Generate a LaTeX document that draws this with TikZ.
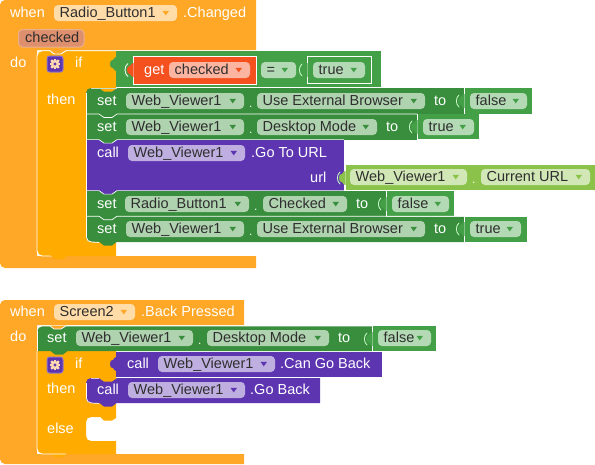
\documentclass[tikz,border=0pt]{standalone}
\usepackage{fontspec}
\setmainfont{Liberation Sans}
\definecolor{ctlA}{HTML}{FFA726}
\definecolor{ctlB}{HTML}{FFAB00}
\definecolor{setG}{HTML}{388E3C}
\definecolor{logG}{HTML}{43A047}
\definecolor{callP}{HTML}{5E35B1}
\definecolor{getR}{HTML}{F4511E}
\definecolor{urlG}{HTML}{8BC34A}
\definecolor{pA}{HTML}{FFDCA8}
\definecolor{pS}{HTML}{AFD2AF}
\definecolor{pL}{HTML}{B4DAB5}
\definecolor{pP}{HTML}{BFAFE0}
\definecolor{pU}{HTML}{D1E7B5}
\definecolor{pR}{HTML}{FBB5A0}
\definecolor{pC}{HTML}{DD8F6E}
\definecolor{pCe}{HTML}{EDB08C}
\definecolor{ink}{HTML}{2E2E2E}
\newcount\nn
\tikzset{
  x=1pt,y=-1pt,
  lbl/.style={anchor=west,inner sep=0pt,text=white,font=\fontsize{14.5pt}{16pt}\selectfont},
  plbl/.style={lbl,text=ink},
  rim/.style={draw=white,line width=0.9pt,line join=round},
  seam/.style={draw=white,line width=.7pt,line join=round},
}
% white label: x, y-centre, text
\newcommand{\lab}[3]{\global\advance\nn 1 \node[lbl] (n\the\nn) at (#1,#2+1.2) {\vphantom{Ag}#3};}
\newcommand{\dotlab}[2]{\lab{#1}{#2+2}{\fontsize{12pt}{12pt}\selectfont .}}
% pill: x1,x2,yc,text,fill,arrow colour
\newcommand{\pill}[6]{\global\advance\nn 1
  \fill[#5,rounded corners=4pt] (#1,#3-8) rectangle (#2,#3+8);
  \node[plbl] (n\the\nn) at (#1+5.5,#3+1) {\vphantom{Ag}#4};
  \fill[#6] (#2-14.5,#3-2.2) -- (#2-8,#3-2.2) -- (#2-11.25,#3+2.4) -- cycle;}
% value tab on a block's left edge x, centre y
\newcommand{\vtab}[3]{\fill[#3] (#1+.5,#2-7) .. controls (#1-1,#2-7) and (#1-2,#2-6) .. (#1-3,#2-4)
   .. controls (#1-7,#2-6) and (#1-7,#2+6) .. (#1-3,#2+4)
   .. controls (#1-2,#2+6) and (#1-1,#2+7) .. (#1+.5,#2+7) -- cycle;}
\newcommand{\vrim}[2]{\draw[white!80!green,line width=.8pt,line cap=round] (#1-5,#2-6) .. controls (#1-8.5,#2-3) and (#1-8.5,#2+3) .. (#1-5,#2+6);}
% value block: x1,x2,y1,y2,yc,colour
\newcommand{\valblock}[6]{\fill[#6] (#1,#3) rectangle (#2,#4);
  \draw[white,line width=.8pt] (#1+.5,#3) -- (#1+.5,#4);
  \vtab{#1}{#5}{#6} \vrim{#1}{#5}}
% downward notch: x, y, colour
\newcommand{\notch}[3]{\fill[#3] (#1+13,#2-.5) -- (#1+18,#2+3.6) -- (#1+26,#2+3.6) -- (#1+31,#2-.5) -- cycle;}
% seam along top of a statement: x1, x2, y
\newcommand{\seamline}[3]{\draw[seam] (#1,#3) -- (#1+13,#3) -- (#1+18,#3+3.5) -- (#1+26,#3+3.5) -- (#1+31,#3) -- (#2,#3);}
% gear: x,y centre
\newcommand{\gear}[2]{
  \fill[white!30!callP,rounded corners=3pt] (#1-8.5,#2-8.5) rectangle (#1+8.5,#2+8.5);
  \fill[callP,rounded corners=2.5pt] (#1-7.5,#2-7.5) rectangle (#1+7.5,#2+7.5);
  \foreach \a in {0,45,...,315}{\fill[white!70!orange,rotate around={\a:(#1,#2)}] (#1-1.2,#2-5.4) rectangle (#1+1.2,#2-3);}
  \fill[white!70!orange,even odd rule] (#1,#2) circle (4.2pt) (#1,#2) circle (1.9pt);}
\begin{document}
\begin{tikzpicture}
\useasboundingbox (0,0) rectangle (595,464);
% ===== first event block =====
\fill[ctlA] (5,0) -- (256,0) -- (256,50) -- (37,50) -- (37,256) -- (256,256) -- (256,268) -- (5,268)
   arc[start angle=270,end angle=180,radius=5pt] -- (0,5) arc[start angle=180,end angle=90,radius=5pt] -- cycle;
% if block
\fill[ctlB] (42,50.5) -- (116,50.5) -- (116,256) -- (42,256) arc[start angle=270,end angle=180,radius=5pt]
   -- (37,55.5) arc[start angle=180,end angle=90,radius=5pt] -- cycle;
\fill[ctlA] (50,50) -- (54,54) -- (61,54) -- (66,50) -- cycle;
\draw[rim] (116,50.7) -- (66,50.7) -- (61,54) -- (54,54) -- (50,50.7) -- (42,50.7) arc[start angle=90,end angle=180,radius=5pt] -- (37,251) arc[start angle=180,end angle=270,radius=5pt] -- (66,256);
\notch{37}{255.5}{ctlB}
% condition
\fill[logG] (116,51) rectangle (380.5,87);
\vtab{116}{64}{logG}
\fill[getR] (133,56) rectangle (256,84);
\draw[white,line width=.9pt] (256,56) rectangle (133,84);
\vtab{133}{70}{getR}
\draw[white,line width=.8pt] (128,63.5) .. controls (124,66) and (124,74) .. (128,76.5);
\lab{144}{70}{get}
\pill{169}{250}{70}{checked}{pR}{getR}
\pill{261}{296}{70}{=}{pL}{logG}
\draw[white,line width=.9pt] (307,56.5) rectangle (371,83.5);
\vtab{307}{70}{logG}
\vrim{307}{70}
\pill{313}{365}{70}{true}{pL}{logG}
% then stack: row 1
\fill[setG] (86,93) arc[start angle=180,end angle=90,radius=5pt] -- (464,88) -- (464,114) -- (86,114) -- cycle;
\fill[ctlB] (99,88) -- (104,91.5) -- (112,91.5) -- (117,88) -- cycle;
\draw[white!70!setG,line width=.7pt] (117,88) -- (91,88);
\valblock{464}{532}{88}{113.5}{101}{logG}
\lab{97}{101}{set}
\pill{126}{244}{101}{Web\_Viewer1}{pS}{setG}
\dotlab{249}{101}
\pill{257}{425}{101}{Use External Browser}{pS}{setG}
\lab{434}{101}{to}
\pill{470}{527}{101}{false}{pL}{logG}
% row 2
\fill[setG] (86,114) rectangle (417,139.5);
\valblock{417}{479}{114}{139}{127}{logG}
\notch{86}{114}{setG}
\seamline{86}{417}{114}
\lab{97}{127}{set}
\pill{126}{244}{127}{Web\_Viewer1}{pS}{setG}
\dotlab{249}{127}
\pill{257}{377}{127}{Desktop Mode}{pS}{setG}
\lab{386}{127}{to}
\pill{423}{474}{127}{true}{pL}{logG}
% row 3
\fill[callP] (86,139.5) rectangle (344,190.5);
\valblock{345}{595}{165}{190}{178}{urlG}
\notch{86}{139.5}{setG}
\seamline{86}{344}{139.6}
\lab{97}{153}{call}
\pill{128}{245}{153}{Web\_Viewer1}{pP}{callP}
\lab{251}{153}{.Go To URL}
\lab{310}{178}{url}
\pill{350}{467}{177}{Web\_Viewer1}{pU}{urlG}
\dotlab{472}{177}
\pill{481}{590}{177}{Current URL}{pU}{urlG}
% row 4
\fill[setG] (86,190.5) rectangle (386,216.5);
\valblock{386}{454}{191}{216}{204}{logG}
\notch{86}{190.5}{callP}
\seamline{86}{386}{190.6}
\lab{97}{204}{set}
\pill{125}{249}{204}{Radio\_Button1}{pS}{setG}
\dotlab{254}{204}
\pill{263}{347}{204}{Checked}{pS}{setG}
\lab{356}{204}{to}
\pill{392}{449}{204}{false}{pL}{logG}
% row 5
\fill[setG] (86,216.5) -- (464,216.5) -- (464,242) -- (91,242) arc[start angle=270,end angle=180,radius=5pt] -- cycle;
\valblock{464}{527}{216.5}{242}{229}{logG}
\notch{86}{216.2}{setG}
\notch{86}{242}{setG}
\seamline{86}{464}{216.2}
\draw[white,line width=.8pt] (86.4,93) -- (86.4,237) arc[start angle=180,end angle=270,radius=5pt] -- (99,242.4);
\lab{97}{229}{set}
\pill{126}{244}{229}{Web\_Viewer1}{pS}{setG}
\dotlab{249}{229}
\pill{257}{425}{229}{Use External Browser}{pS}{setG}
\lab{434}{229}{to}
\pill{470}{521}{229}{true}{pL}{logG}
% labels of event 1
\lab{10}{13}{when}
\pill{54}{177}{13}{Radio\_Button1}{pA}{ctlA}
\lab{183}{13}{.Changed}
\fill[pC,rounded corners=4pt,draw=pCe,line width=1pt] (18.5,29.5) rectangle (84,47);
\node[plbl] (chk) at (25,39) {\vphantom{Ag}checked};
\lab{10}{63}{do}
\gear{55}{64}
\lab{75}{63}{if}
\lab{47}{100}{then}
% ===== second event block =====
\fill[ctlA] (5,300) -- (244,300) -- (244,325) -- (37,325) -- (37,454) -- (244,454) -- (244,464) -- (5,464)
   arc[start angle=270,end angle=180,radius=5pt] -- (0,305) arc[start angle=180,end angle=90,radius=5pt] -- cycle;
\fill[ctlB] (37,351) -- (116,351) -- (116,417) -- (91,417) arc[start angle=90,end angle=180,radius=5pt]
   -- (86,436) arc[start angle=180,end angle=270,radius=5pt] -- (116,441) -- (116,454) -- (42,454)
   arc[start angle=270,end angle=180,radius=5pt] -- cycle;
\fill[ctlB] (100,416.5) -- (104,420.5) -- (112,420.5) -- (116,418) -- (116,416.5) -- cycle;
\notch{37}{453.5}{ctlB}
\draw[rim] (37,351) -- (37,449) arc[start angle=180,end angle=270,radius=5pt] -- (66,454);
% set
\fill[setG] (37,331) arc[start angle=180,end angle=90,radius=5pt] -- (372,326) -- (372,351) -- (37,351) -- cycle;
\valblock{372}{436}{326}{351}{339}{logG}
\fill[ctlA] (50,325.6) -- (54,329) -- (61,329) -- (66,325.6) -- cycle;
\draw[seam] (37,331) arc[start angle=180,end angle=90,radius=5pt] -- (50,326) -- (54,329) -- (61,329) -- (66,326) -- (372,326);
\draw[seam] (37,331) -- (37,351);
\notch{37}{351}{setG}
\lab{47}{338}{set}
\pill{76}{193}{338}{Web\_Viewer1}{pS}{setG}
\dotlab{198}{338}
\pill{207}{329}{338}{Desktop Mode}{pS}{setG}
\lab{338}{338}{to}
\pill{378}{431}{338}{false}{pL}{logG}
% condition call
\fill[callP] (116,352) rectangle (382,377);
\vtab{116}{364}{callP}
\lab{127}{364}{call}
\pill{158}{275}{364}{Web\_Viewer1}{pP}{callP}
\lab{280}{364}{.Can Go Back}
% then call
\fill[callP] (86,383) arc[start angle=180,end angle=90,radius=5pt] -- (320,378) -- (320,403) -- (91,403)
   arc[start angle=270,end angle=180,radius=5pt] -- cycle;
\fill[ctlB] (99,378) -- (104,381.5) -- (112,381.5) -- (117,378) -- cycle;
\draw[white!70!callP,line width=.7pt] (91,378) -- (99,378);
\notch{86}{403}{callP}
\draw[white,line width=.7pt] (86.4,383) -- (86.4,398) arc[start angle=180,end angle=270,radius=5pt] -- (99,403.4);
\lab{97}{390}{call}
\pill{128}{245}{390}{Web\_Viewer1}{pP}{callP}
\lab{250}{390}{.Go Back}
% event 2 labels
\lab{10}{312}{when}
\pill{54}{135}{312}{Screen2}{pA}{ctlA}
\lab{141}{312}{.Back Pressed}
\lab{10}{337}{do}
\gear{55}{365}
\lab{75}{364}{if}
\lab{47}{389}{then}
\lab{47}{429}{else}
\end{tikzpicture}
\end{document}
